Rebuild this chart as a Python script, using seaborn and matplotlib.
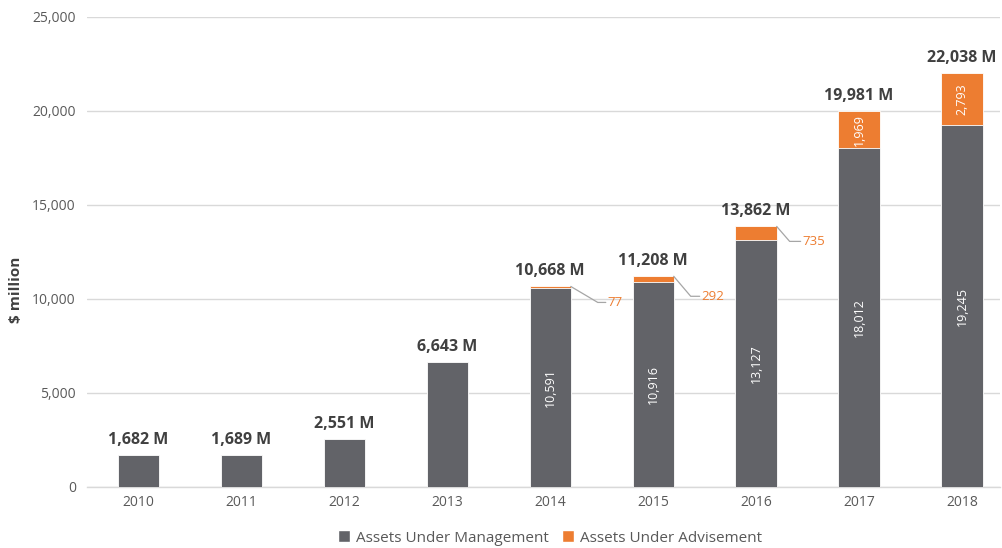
import numpy as np
import pandas as pd
import matplotlib
matplotlib.use("Agg")
import matplotlib.pyplot as plt
import matplotlib.transforms as mtrans
from matplotlib.lines import Line2D
from matplotlib.patches import Patch
from matplotlib.ticker import FuncFormatter
import seaborn as sns

# ---- data ----
years = ["2010", "2011", "2012", "2013", "2014", "2015", "2016", "2017", "2018"]
aum = [1682, 1689, 2551, 6643, 10591, 10916, 13127, 18012, 19245]
aua = [0, 0, 0, 0, 77, 292, 735, 1969, 2793]
totals = [1682, 1689, 2551, 6643, 10668, 11208, 13862, 19981, 22038]
y_ticks = [0, 5000, 10000, 15000, 20000, 25000]
series_names = ["Assets Under Management", "Assets Under Advisement"]

# ---- style ----
GRAY = "#626368"
ORANGE = "#ED7D31"
TXT = "#595959"
DARK = "#404040"
GRID = "#D9D9D9"
BAR_W = 0.40

sns.set_theme(style="white")
plt.rcParams["font.family"] = ["Open Sans", "DejaVu Sans"]

fig = plt.figure(figsize=(10.02, 5.48), dpi=100)
ax = fig.add_axes([87 / 1002, 1 - 487 / 548, 913 / 1002, 470 / 548])

df = pd.DataFrame({"year": years, "aum": aum, "aua": aua, "total": totals})

sns.barplot(data=df, x="year", y="total", color=ORANGE, width=BAR_W,
            saturation=1, edgecolor="white", linewidth=0.6, ax=ax, zorder=2)
sns.barplot(data=df, x="year", y="aum", color=GRAY, width=BAR_W,
            saturation=1, edgecolor="white", linewidth=0.6, ax=ax, zorder=3)

ax.set_ylim(0, 25000)
ax.set_xlim(-0.5, 8.37)
ax.set_yticks(y_ticks)
ax.yaxis.set_major_formatter(FuncFormatter(lambda v, p: f"{int(v):,}"))
ax.yaxis.grid(True, color=GRID, lw=1)
ax.set_axisbelow(True)
for s in ["top", "right", "left"]:
    ax.spines[s].set_visible(False)
ax.spines["bottom"].set_color(GRID)
ax.spines["bottom"].set_linewidth(1)
ax.tick_params(axis="both", length=0, labelsize=10, colors=TXT)
ax.tick_params(axis="y", pad=8)
ax.tick_params(axis="x", pad=6)
ax.set_xlabel("")
ax.set_ylabel(r"\$ million", fontsize=11, fontweight="bold", color=DARK)
ax.yaxis.set_label_coords(-0.070, 0.42)

# total labels
for i, t in enumerate(totals):
    ax.annotate(f"{t:,} M", xy=(i, t), xytext=(0, 5), textcoords="offset points",
                ha="center", va="bottom", fontsize=11.5, fontweight="bold",
                color=DARK, zorder=5)

# inside labels
for i in range(len(years)):
    if aua[i] > 0:
        ax.text(i, aum[i] / 2, f"{aum[i]:,}", rotation=90, ha="center",
                va="center", color="white", fontsize=9, zorder=5)
    if aua[i] > 1000:
        ax.text(i, aum[i] + aua[i] / 2, f"{aua[i]:,}", rotation=90,
                ha="center", va="center", color="white", fontsize=9, zorder=5)

# callouts for small advisement values (offsets in pixels)
callout_geom = {4: (27, 16, 37), 5: (17, 20, 28), 6: (13, 15, 26)}
for i, (dxd, dy, dxt) in callout_geom.items():
    base = mtrans.ScaledTranslation(i + BAR_W / 2, totals[i], ax.transData)
    tr = fig.dpi_scale_trans + base
    xs = np.array([0, dxd, dxt - 2]) / 100
    ys = np.array([0, -dy, -dy]) / 100
    ax.add_line(Line2D(xs, ys, transform=tr, color="#A6A6A6", lw=0.9,
                       clip_on=False, zorder=4))
    ax.text(dxt / 100, -dy / 100, f"{aua[i]:,}", transform=tr, ha="left",
            va="center", color=ORANGE, fontsize=9.5, zorder=5)

handles = [Patch(facecolor=GRAY, label=series_names[0]),
           Patch(facecolor=ORANGE, label=series_names[1])]
fig.legend(handles=handles, loc="center", bbox_to_anchor=(550 / 1002, 1 - 538 / 548),
           ncol=2, frameon=False, fontsize=11, handlelength=0.8, handleheight=0.8,
           handletextpad=0.35, columnspacing=0.9, labelcolor=TXT, borderpad=0)

fig.savefig("out.png", dpi=100)
